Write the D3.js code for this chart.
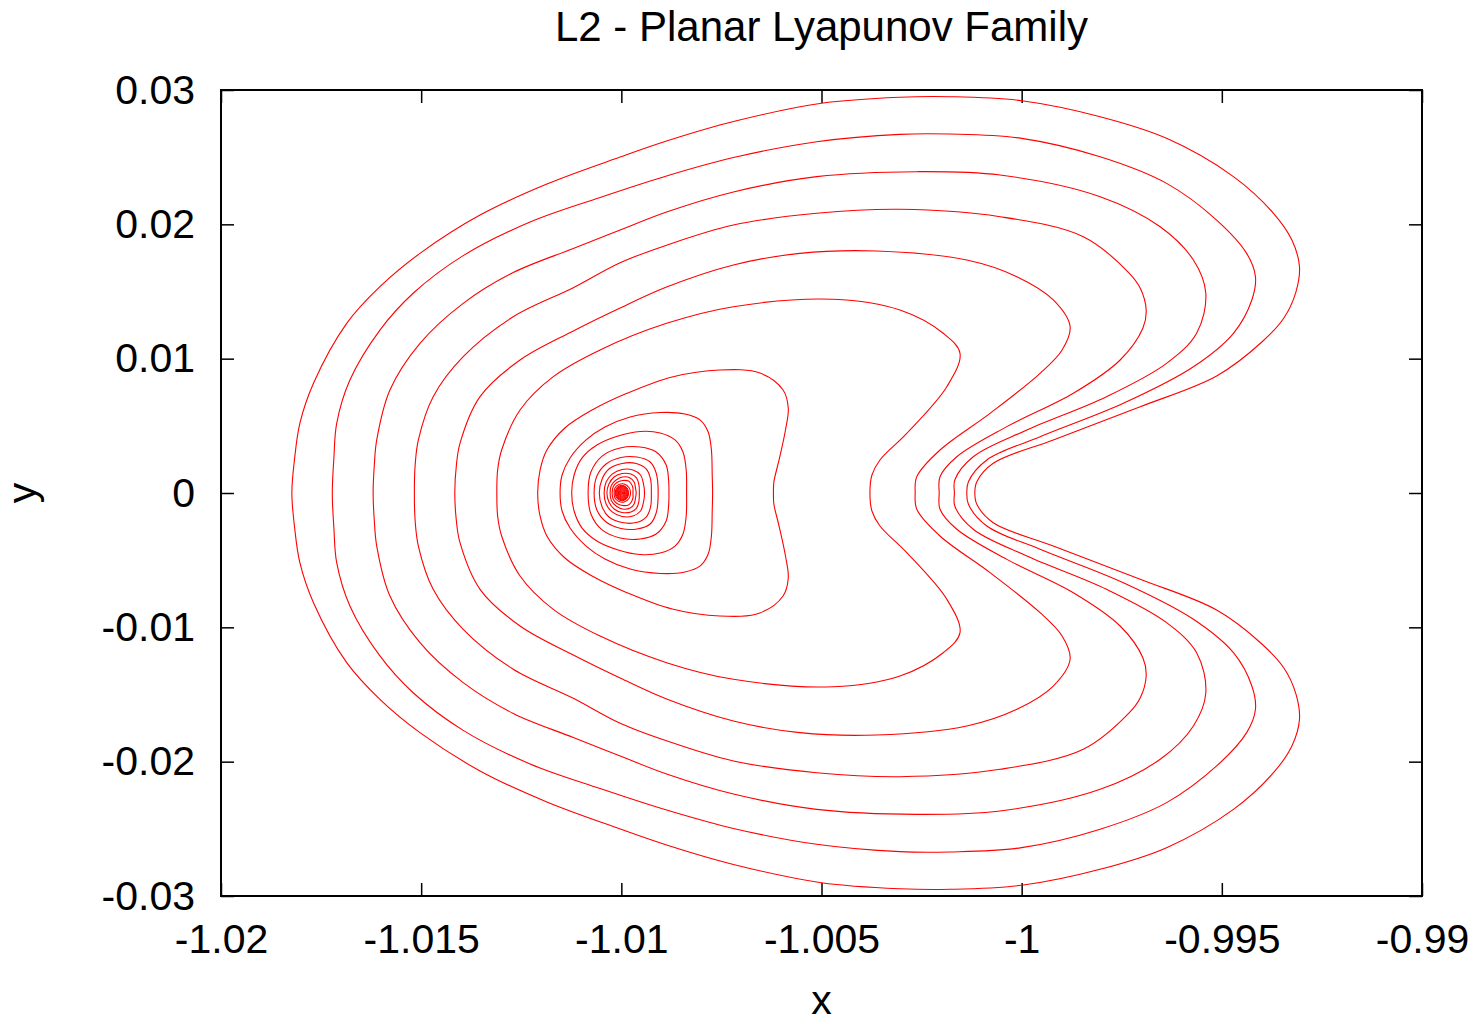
<!DOCTYPE html>
<html>
<head>
<meta charset="utf-8">
<script src="https://cdn.jsdelivr.net/npm/d3@7"></script>
<style>
  body { margin: 0; background: #fff; }
  text { font-family: "Liberation Sans", Arial, sans-serif; fill: #000; }
</style>
</head>
<body>
<div id="chart"></div>
<script>
// tick values on both axes
const xTicks = [-1.02, -1.015, -1.01, -1.005, -1, -0.995, -0.99];
const yTicks = [-0.03, -0.02, -0.01, 0, 0.01, 0.02, 0.03];

// upper half (y >= 0) of each orbit, left crossing -> top -> right crossing
// the family is symmetric about y = 0, the lower half is the same points with y negated
const o1x = [-1.01823, -1.01816, -1.01803, -1.01769, -1.01686, -1.01603, -1.01503, -1.01353, -1.01186, -1.01003, -1.00887, -1.0072, -1.005, -1.00304, -1.00179, -1.0, -0.99804, -0.99638, -0.99471, -0.99371, -0.99325, -0.99306, -0.99315, -0.99345, -0.994, -0.99513, -0.99704, -0.99921, -1.00071, -1.00112, -1.00117];
const o1y = [0, 0.00261, 0.00519, 0.00817, 0.01263, 0.01536, 0.01784, 0.02069, 0.0230, 0.02501, 0.0262, 0.02765, 0.02901, 0.02946, 0.0295, 0.0292, 0.02801, 0.0264, 0.02355, 0.02082, 0.01883, 0.01685, 0.01496, 0.01303, 0.01124, 0.00871, 0.00642, 0.00395, 0.00221, 0.00084, 0];

const o2x = [-1.01722, -1.01718, -1.01711, -1.01678, -1.01603, -1.0152, -1.01395, -1.01228, -1.01053, -1.00887, -1.0072, -1.00512, -1.00304, -1.00179, -1.0, -0.99804, -0.99638, -0.99513, -0.99438, -0.99416, -0.99425, -0.99471, -0.99571, -0.99746, -0.99954, -1.00087, -1.00133, -1.00137];
const o2y = [0, 0.00261, 0.00519, 0.00841, 0.01213, 0.01487, 0.01767, 0.02017, 0.022, 0.0236, 0.02497, 0.02615, 0.0267, 0.02672, 0.0264, 0.02503, 0.02305, 0.02032, 0.01784, 0.0161, 0.01437, 0.01189, 0.0094, 0.00668, 0.00419, 0.00246, 0.00084, 0];

const o3x = [-1.0162, -1.01617, -1.01611, -1.01578, -1.01503, -1.01395, -1.0127, -1.0112, -1.01003, -1.00887, -1.0072, -1.00512, -1.00262, -1.00054, -0.99804, -0.99654, -0.99571, -0.9954, -0.99563, -0.99638, -0.99788, -0.99987, -1.00121, -1.00167, -1.00168];
const o3y = [0, 0.00208, 0.00395, 0.00767, 0.01114, 0.01412, 0.01641, 0.0182, 0.01958, 0.02092, 0.02241, 0.02355, 0.02392, 0.02367, 0.02206, 0.01982, 0.01734, 0.01487, 0.01189, 0.00965, 0.00717, 0.00469, 0.0027, 0.00097, 0];

const o4x = [-1.01517, -1.01515, -1.01507, -1.0147, -1.01395, -1.0127, -1.0112, -1.01003, -1.00887, -1.0072, -1.00512, -1.00304, -1.00054, -0.99846, -0.99734, -0.99704, -0.99689, -0.99697, -0.99754, -0.99871, -1.00037, -1.00162, -1.00204, -1.00206];
const o4y = [0, 0.00208, 0.00395, 0.00717, 0.01015, 0.01312, 0.01528, 0.01714, 0.01845, 0.01995, 0.02082, 0.02112, 0.02057, 0.01908, 0.01645, 0.01526, 0.01362, 0.01228, 0.0099, 0.00742, 0.00494, 0.0027, 0.00121, 0];

const o5x = [-1.01416, -1.01412, -1.01403, -1.01353, -1.01253, -1.0112, -1.01003, -1.00887, -1.0072, -1.00554, -1.00362, -1.00137, -1.00012, -0.99921, -0.99879, -0.99899, -0.99954, -1.00079, -1.00204, -1.00262, -1.00266];
const o5y = [0, 0.00208, 0.0037, 0.00717, 0.0099, 0.01206, 0.01377, 0.01533, 0.01697, 0.01784, 0.01801, 0.01734, 0.0161, 0.01437, 0.01238, 0.01065, 0.00891, 0.00593, 0.0032, 0.00121, 0];

const o6x = [-1.01311, -1.01309, -1.01299, -1.01253, -1.0117, -1.01053, -1.00887, -1.0072, -1.00471, -1.00304, -1.00196, -1.00154, -1.00187, -1.00287, -1.00354, -1.00374, -1.00379];
const o6y = [0, 0.00171, 0.0032, 0.00618, 0.00866, 0.01065, 0.01263, 0.01387, 0.01442, 0.01362, 0.01189, 0.0104, 0.00791, 0.00444, 0.00246, 0.00134, 0];

const o7x = [-1.01209, -1.01203, -1.01186, -1.01141, -1.01073, -1.00986, -1.00873, -1.00754, -1.00654, -1.00596, -1.00583, -1.0059, -1.00606, -1.00619, -1.0062];
const o7y = [0, 0.00171, 0.0032, 0.00484, 0.00618, 0.00742, 0.00864, 0.00916, 0.00893, 0.00767, 0.00633, 0.00469, 0.00246, 0.00082, 0];

const o8x = [-1.01153, -1.01148, -1.01128, -1.01088, -1.01041, -1.00978, -1.00903, -1.00841, -1.00803, -1.00783, -1.00775, -1.00773, -1.00772];
const o8y = [0, 0.00134, 0.00261, 0.00395, 0.00491, 0.00566, 0.00599, 0.00588, 0.00543, 0.00454, 0.0032, 0.00134, 0];

const o9x = [-1.01124, -1.01118, -1.01098, -1.01061, -1.01008, -1.00953, -1.00903, -1.00866, -1.00846, -1.00838, -1.00837];
const o9y = [0, 0.00134, 0.00261, 0.00357, 0.00424, 0.00458, 0.00447, 0.00395, 0.00305, 0.00171, 0];

const o10x = [-1.01083, -1.01076, -1.01048, -1.01003, -1.00953, -1.00913, -1.00888, -1.00882, -1.00881];
const o10y = [0, 0.00156, 0.00275, 0.00335, 0.00342, 0.00305, 0.00208, 0.00097, 0];

const o11x = [-1.01068, -1.01061, -1.01038, -1.01001, -1.00961, -1.00928, -1.00913, -1.00908];
const o11y = [0, 0.00127, 0.00216, 0.00264, 0.00268, 0.00231, 0.00149, 0];

const o12x = [-1.01055, -1.01048, -1.01031, -1.00998, -1.00963, -1.00938, -1.00927, -1.00925];
const o12y = [0, 0.00104, 0.00179, 0.0022, 0.0022, 0.00179, 0.00104, 0];

const o13x = [-1.01043, -1.01038, -1.01023, -1.00998, -1.00971, -1.00952, -1.00945, -1.00942];
const o13y = [0, 0.00082, 0.00141, 0.00175, 0.00171, 0.00134, 0.00074, 0];

const o14x = [-1.01036, -1.01031, -1.01018, -1.00998, -1.00976, -1.00962, -1.00956, -1.00955];
const o14y = [0, 0.00067, 0.00119, 0.00145, 0.00141, 0.00112, 0.0006, 0];

const o15x = [-1.01028, -1.01025, -1.01013, -1.00997, -1.00978, -1.00968, -1.00965, -1.00963];
const o15y = [0, 0.00056, 0.00097, 0.00119, 0.00112, 0.00082, 0.00045, 0];

const o16x = [-1.01023, -1.0102, -1.01011, -1.00997, -1.00982, -1.00975, -1.00971, -1.00971];
const o16y = [0, 0.00048, 0.00078, 0.00093, 0.00089, 0.00067, 0.00037, 0];

// the dense knot of tiny orbits round the libration point
const o17x = [-1.01018, -1.01016, -1.01006, -1.00993, -1.00981, -1.00977];
const o17y = [0, 0.00037, 0.00063, 0.00067, 0.00041, 0];

const o18x = [-1.01015, -1.01013, -1.01005, -1.00995, -1.00985, -1.00982];
const o18y = [0, 0.0003, 0.00052, 0.00056, 0.00033, 0];

const o19x = [-1.01013, -1.01011, -1.01004, -1.00995, -1.00986, -1.00984];
const o19y = [0, 0.00026, 0.00046, 0.0005, 0.0003, 0];

const o20x = [-1.01011, -1.01009, -1.01003, -1.00995, -1.00988, -1.00986];
const o20y = [0, 0.00024, 0.00041, 0.00045, 0.00026, 0];

const o21x = [-1.01009, -1.01008, -1.01002, -1.00995, -1.00989, -1.00988];
const o21y = [0, 0.00021, 0.00035, 0.00037, 0.0002, 0];

const o22x = [-1.01007, -1.01006, -1.01001, -1.00995, -1.00991, -1.0099];
const o22y = [0, 0.00019, 0.00028, 0.0003, 0.00016, 0];

const o23x = [-1.01005, -1.01004, -1.01001, -1.00996, -1.00993, -1.00992];
const o23y = [0, 0.00013, 0.00021, 0.00022, 0.00013, 0];

const o24x = [-1.01003, -1.01002, -1.01, -1.00997, -1.00995, -1.00994];
const o24y = [0, 0.00009, 0.00013, 0.00015, 0.00008, 0];

const o25x = [-1.01001, -1.01, -1.00999, -1.00997, -1.00997];
const o25y = [0, 0.00006, 0.00007, 0.00005, 0];

const orbits = [
    [o1x, o1y], [o2x, o2y], [o3x, o3y], [o4x, o4y], [o5x, o5y], [o6x, o6y], [o7x, o7y],
    [o8x, o8y], [o9x, o9y], [o10x, o10y], [o11x, o11y], [o12x, o12y], [o13x, o13y],
    [o14x, o14y], [o15x, o15y], [o16x, o16y], [o17x, o17y], [o18x, o18y], [o19x, o19y],
    [o20x, o20y], [o21x, o21y], [o22x, o22y], [o23x, o23y], [o24x, o24y], [o25x, o25y]
];

// svg setup
let svgWidth = 1480;
let svgHeight = 1024;
let margin = { top: 90, right: 58, bottom: 128, left: 221 };
let width = svgWidth - margin.left - margin.right;
let height = svgHeight - margin.top - margin.bottom;

let svg = d3.select("#chart")
    .append("svg")
    .attr("width", svgWidth)
    .attr("height", svgHeight);

let chartGroup = svg.append("g")
    .attr("transform", `translate(${margin.left},${margin.top})`);

// scales
let xScale = d3.scaleLinear().domain([-1.02, -0.99]).range([0, width]);
let yScale = d3.scaleLinear().domain([-0.03, 0.03]).range([height, 0]);

// gnuplot style numbers, plain hyphen as minus
let fmt = d3.formatLocale({ decimal: ".", thousands: ",", grouping: [3], currency: ["", ""], minus: "-" }).format("~g");

let tickLen = 13;
let fontSize = 41;

// bottom and left axes, ticks pointing inward
let bottomAxis = d3.axisBottom(xScale).tickValues(xTicks).tickFormat(fmt)
    .tickSizeInner(-tickLen).tickSizeOuter(0).tickPadding(28);
let leftAxis = d3.axisLeft(yScale).tickValues(yTicks).tickFormat(fmt)
    .tickSizeInner(-tickLen).tickSizeOuter(0).tickPadding(26);
// mirrored ticks on top and right, no labels
let topAxis = d3.axisTop(xScale).tickValues(xTicks).tickFormat("")
    .tickSizeInner(-tickLen).tickSizeOuter(0);
let rightAxis = d3.axisRight(yScale).tickValues(yTicks).tickFormat("")
    .tickSizeInner(-tickLen).tickSizeOuter(0);

function styleAxis(g) {
    g.select(".domain").remove();
    g.selectAll(".tick line").attr("stroke", "#000").attr("stroke-width", 1.5);
    g.selectAll(".tick text")
        .attr("font-family", "'Liberation Sans', Arial, sans-serif")
        .attr("font-size", fontSize)
        .attr("fill", "#000");
}

chartGroup.append("g").attr("transform", `translate(0,${height})`).call(bottomAxis).call(styleAxis);
chartGroup.append("g").call(leftAxis).call(styleAxis);
chartGroup.append("g").call(topAxis).call(styleAxis);
chartGroup.append("g").attr("transform", `translate(${width},0)`).call(rightAxis).call(styleAxis);

// closed orbit from its upper half plus its mirror image
function ring(xs, ys) {
    let upper = xs.map((v, i) => [v, ys[i]]);
    let lower = xs.slice(1, -1).map((v, i) => [v, -ys[i + 1]]).reverse();
    return upper.concat(lower);
}

let orbitLine = d3.line()
    .x(d => xScale(d[0]))
    .y(d => yScale(d[1]))
    .curve(d3.curveCatmullRomClosed.alpha(0.5));

chartGroup.append("g")
    .selectAll("path")
    .data(orbits)
    .enter()
    .append("path")
    .attr("d", o => orbitLine(ring(o[0], o[1])))
    .attr("fill", "none")
    .attr("stroke", "#ff0000")
    .attr("stroke-width", 1.1);

// plot border
chartGroup.append("rect")
    .attr("width", width)
    .attr("height", height)
    .attr("fill", "none")
    .attr("stroke", "#000")
    .attr("stroke-width", 2);

// title and axis labels
svg.append("text")
    .attr("x", margin.left + width / 2)
    .attr("y", 41)
    .attr("text-anchor", "middle")
    .attr("font-size", 42)
    .text("L2 - Planar Lyapunov Family");

svg.append("text")
    .attr("x", margin.left + width / 2)
    .attr("y", 1014)
    .attr("text-anchor", "middle")
    .attr("font-size", fontSize)
    .text("x");

svg.append("text")
    .attr("transform", `translate(36,${margin.top + height / 2}) rotate(-90)`)
    .attr("text-anchor", "middle")
    .attr("font-size", fontSize)
    .text("y");
</script>
</body>
</html>
